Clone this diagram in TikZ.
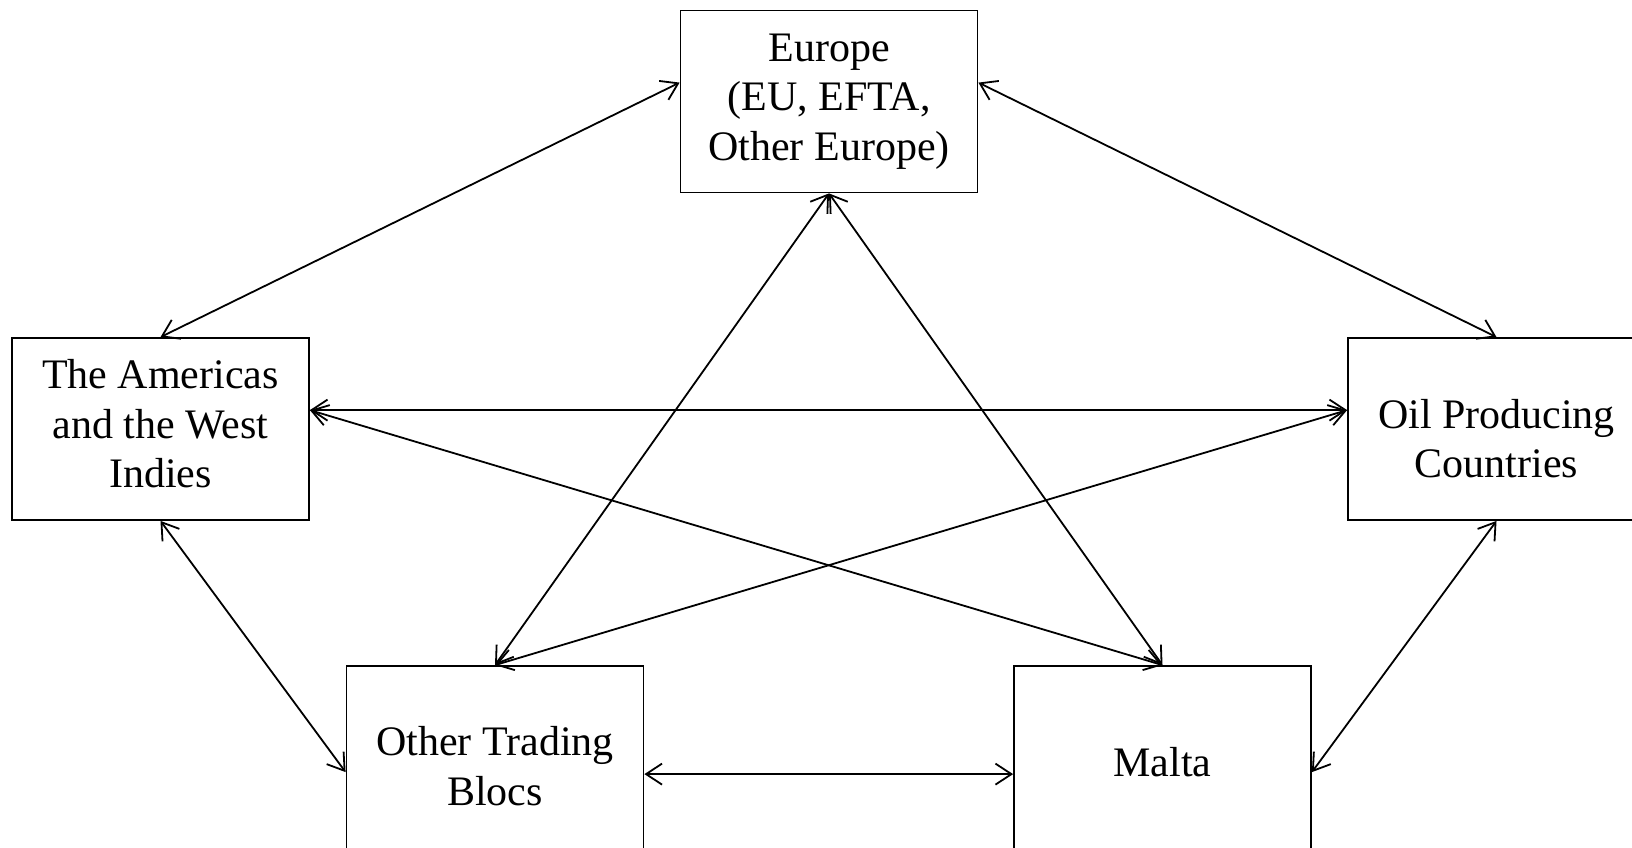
\documentclass[tikz,border=0pt]{standalone}
\usepackage{fontspec}
\setmainfont{Liberation Serif}
\usetikzlibrary{arrows.meta,calc}
\begin{document}
\begin{tikzpicture}[x=1pt,y=-1pt,
  box/.style={draw,line width=1.8pt,minimum width=297pt,minimum height=182pt,inner sep=0pt},
  lowbox/.style={box,minimum height=218pt},
  txt/.style={inner sep=0pt,align=center,font=\fontsize{42}{49.5}\selectfont},
  link/.style={line width=1.8pt,{Straight Barb[length=16pt,width=21pt,line width=1.8pt]}-{Straight Barb[length=16pt,width=21pt,line width=1.8pt]}}]
\useasboundingbox (0,0) rectangle (1632,847);
\clip (0,0) rectangle (1632,847);
\node[box] (eu) at (829,101.5) {};
\node[box] (am) at (160.5,429) {};
\node[box] (oil) at (1496.5,429) {};
\node[lowbox] (ot) at (495,775) {};
\node[lowbox] (ma) at (1162.5,775) {};
\node[txt] (eut) at (eu.center) {Europe\\(EU, EFTA,\\Other Europe)};
\node[txt] (amt) at ([yshift=5pt]am.center) {The Americas\\and the West\\Indies};
\node[txt] (oilt) at ([yshift=-9.5pt]oil.center) {Oil Producing\\Countries};
\node[txt] (ott) at ([yshift=9pt]ot.center) {Other Trading\\Blocs};
\node[txt] (mat) at ([yshift=12.5pt]ma.center) {Malta};
\coordinate (eL) at ([yshift=-73pt]eu.north west);
\coordinate (eR) at ([yshift=-73pt]eu.north east);
\coordinate (amR) at ([yshift=-73pt]am.north east);
\coordinate (oiL) at ([yshift=-73pt]oil.north west);
\coordinate (otL) at ([yshift=-107pt]ot.north west);
\coordinate (otR) at ([yshift=-109pt]ot.north east);
\coordinate (maL) at ([yshift=-109pt]ma.north west);
\coordinate (maR) at ([yshift=-107pt]ma.north east);
\draw[link] (am.north) -- (eL);
\draw[link] (oil.north) -- (eR);
\draw[link] (eu.south) -- (ot.north);
\draw[link] (eu.south) -- (ma.north);
\draw[link] (amR) -- (oiL);
\draw[link] (amR) -- (ma.north);
\draw[link] (oiL) -- (ot.north);
\draw[link] (am.south) -- (otL);
\draw[link] (oil.south) -- (maR);
\draw[link] (otR) -- (maL);
\end{tikzpicture}
\end{document}
